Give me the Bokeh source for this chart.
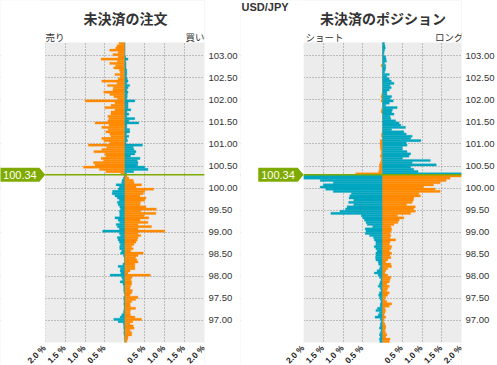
import math
from bokeh.plotting import figure
from bokeh.layouts import row
from bokeh.models import (ColumnDataSource, FixedTicker, Label, Span, BoxAnnotation,
                          PolyAnnotation, NumeralTickFormatter)
from bokeh.embed import file_html
from bokeh.resources import INLINE

# ---------------- data ----------------
pair = "USD/JPY"
price_top = 103.30          # upper edge of the top bucket
price_bottom = 96.50        # lower edge of the bottom bucket
bucket = 0.05               # bucket size (yen)
line_price = 100.30         # where the current-price line sits
current_price_label = "100.34"
price_ticks = [97.0, 97.5, 98.0, 98.5, 99.0, 99.5, 100.0, 100.5,
               101.0, 101.5, 102.0, 102.5, 103.0]
pct_ticks = [-2.0, -1.5, -1.0, -0.5, 0.5, 1.0, 1.5, 2.0]
pct_labels = ["2.0 %", "1.5 %", "1.0 %", "0.5 %", "0.5 %", "1.0 %", "1.5 %", "2.0 %"]

# open orders (%), listed from the top bucket (103.25) down to the bottom (96.50)
orders_left = [
    0.15, 0.20, 0.23, 0.38, 0.17, 0.30, 0.17, 0.60, 0.19, 0.38,
    0.23, 0.28, 0.14, 0.12, 0.25, 0.12, 0.17, 0.58, 0.20, 0.44,
    0.29, 0.30, 0.53, 0.38, 0.28, 0.19, 1.00, 0.25, 0.35, 0.50,
    0.25, 0.35, 0.35, 0.43, 0.40, 0.43, 0.75, 0.40, 0.58, 0.42,
    0.48, 0.38, 0.35, 0.58, 0.53, 0.38, 0.92, 0.46, 0.58, 0.78,
    0.50, 0.48, 0.60, 0.54, 0.79, 0.75, 1.04, 0.64, 0.48, 0.10,
    0.02, 0.04, 0.07, 0.08, 0.22, 0.14, 0.17, 0.31, 0.32, 0.25,
    0.19, 0.14, 0.19, 0.17, 0.13, 0.11, 0.14, 0.13, 0.13, 0.25,
    0.17, 0.13, 0.22, 0.19, 0.14, 0.56, 0.14, 0.11, 0.19, 0.17,
    0.14, 0.11, 0.13, 0.13, 0.08, 0.11, 0.04, 0.02, 0.01, 0.01,
    0.05, 0.17, 0.11, 0.12, 0.10, 0.37, 0.08, 0.06, 0.12, 0.05,
    0.03, 0.03, 0.03, 0.02, 0.00, 0.03, 0.03, 0.02, 0.03, 0.02,
    0.02, 0.03, 0.04, 0.08, 0.12, 0.28, 0.17, 0.04, 0.03, 0.03,
    0.02, 0.03, 0.02, 0.01, 0.01, 0.00]
orders_right = [
    0.00, 0.00, 0.00, 0.00, 0.00, 0.00, 0.02, 0.08, 0.02, 0.03,
    0.03, 0.03, 0.05, 0.05, 0.05, 0.04, 0.06, 0.08, 0.05, 0.12,
    0.08, 0.05, 0.08, 0.06, 0.06, 0.05, 0.25, 0.08, 0.08, 0.08,
    0.15, 0.05, 0.10, 0.05, 0.25, 0.10, 0.35, 0.05, 0.05, 0.12,
    0.12, 0.04, 0.10, 0.05, 0.07, 0.03, 0.44, 0.21, 0.23, 0.28,
    0.25, 0.14, 0.38, 0.31, 0.33, 0.32, 0.50, 0.58, 0.22, 0.04,
    0.05, 0.10, 0.21, 0.23, 0.42, 0.28, 0.72, 0.50, 0.46, 0.38,
    0.53, 0.50, 0.39, 0.38, 0.53, 0.79, 0.40, 0.78, 0.48, 0.60,
    0.38, 0.58, 0.33, 0.67, 0.33, 1.00, 0.33, 0.40, 0.33, 0.31,
    0.28, 0.23, 0.17, 0.21, 0.15, 0.46, 0.33, 0.27, 0.30, 0.33,
    0.25, 0.25, 0.25, 0.13, 0.08, 0.64, 0.18, 0.15, 0.17, 0.17,
    0.14, 0.13, 0.19, 0.17, 0.13, 0.33, 0.27, 0.17, 0.13, 0.14,
    0.27, 0.14, 0.13, 0.14, 0.25, 0.42, 0.20, 0.13, 0.21, 0.23,
    0.13, 0.17, 0.17, 0.08, 0.07, 0.05]

# open positions (%), same buckets
positions_left = [
    0.00, 0.00, 0.00, 0.00, 0.00, 0.00, 0.00, 0.00, 0.00, 0.00,
    0.04, 0.00, 0.00, 0.00, 0.00, 0.00, 0.00, 0.00, 0.00, 0.00,
    0.00, 0.00, 0.00, 0.02, 0.04, 0.02, 0.04, 0.00, 0.00, 0.00,
    0.03, 0.04, 0.00, 0.00, 0.00, 0.00, 0.00, 0.00, 0.00, 0.00,
    0.00, 0.03, 0.03, 0.00, 0.06, 0.06, 0.06, 0.06, 0.05, 0.03,
    0.04, 0.06, 0.03, 0.04, 0.06, 0.08, 0.08, 0.08, 0.10, 0.68,
    2.40, 2.40, 1.58, 1.25, 1.50, 1.58, 1.44, 1.25, 0.79, 0.83,
    0.85, 0.73, 0.86, 0.73, 0.90, 0.94, 1.08, 1.31, 0.54, 0.50,
    0.46, 0.42, 0.39, 0.25, 0.44, 0.42, 0.44, 0.33, 0.23, 0.21,
    0.17, 0.17, 0.21, 0.17, 0.14, 0.17, 0.17, 0.18, 0.17, 0.11,
    0.10, 0.06, 0.08, 0.14, 0.21, 0.11, 0.08, 0.04, 0.06, 0.08,
    0.11, 0.06, 0.04, 0.08, 0.10, 0.08, 0.06, 0.04, 0.06, 0.06,
    0.13, 0.17, 0.08, 0.11, 0.19, 0.06, 0.04, 0.06, 0.06, 0.08,
    0.04, 0.06, 0.08, 0.06, 0.08, 0.07]
positions_right = [
    0.05, 0.06, 0.07, 0.05, 0.04, 0.03, 0.08, 0.09, 0.10, 0.05,
    0.08, 0.08, 0.07, 0.05, 0.17, 0.11, 0.17, 0.22, 0.29, 0.19,
    0.22, 0.17, 0.11, 0.11, 0.23, 0.19, 0.27, 0.17, 0.08, 0.37,
    0.25, 0.23, 0.29, 0.19, 0.21, 0.33, 0.42, 0.46, 0.58, 0.23,
    0.54, 0.60, 0.75, 0.71, 0.97, 0.60, 0.62, 0.50, 0.50, 0.62,
    0.71, 0.67, 0.50, 1.21, 0.75, 1.36, 0.71, 0.79, 0.90, 2.40,
    2.40, 1.71, 1.61, 1.46, 1.29, 1.04, 1.33, 1.46, 0.92, 0.96,
    0.79, 0.78, 0.75, 0.61, 0.83, 0.79, 0.83, 0.71, 0.38, 0.54,
    0.42, 0.39, 0.29, 0.21, 0.23, 0.22, 0.19, 0.21, 0.19, 0.33,
    0.19, 0.17, 0.23, 0.21, 0.17, 0.23, 0.19, 0.21, 0.13, 0.08,
    0.21, 0.23, 0.13, 0.08, 0.06, 0.13, 0.21, 0.19, 0.17, 0.11,
    0.17, 0.13, 0.11, 0.17, 0.13, 0.08, 0.06, 0.11, 0.23, 0.17,
    0.06, 0.08, 0.06, 0.04, 0.08, 0.04, 0.03, 0.06, 0.08, 0.08,
    0.06, 0.08, 0.11, 0.08, 0.19, 0.17]

# ---------------- style / layout ----------------
ORANGE = "#ff8a00"
TEAL = "#00a6c0"
GREEN = "#7fab00"
BG = "#ececec"
GRID = "#8c8c8c"
TXT = "#333333"
LATIN = "Liberation Sans"
CJK = "Noto Sans CJK JP"
H = 365
PLOT_TOP_PX = 42            # page y of the top of the grey plot area
PLOT_H_PX = 300             # height of the grey plot area
PX_Y = (price_top - price_bottom) / PLOT_H_PX   # yen per pixel
PX_X = 4.0 / 160            # percent per pixel
Y_MAX = price_top + PLOT_TOP_PX * PX_Y
Y_MIN = price_bottom - (H - PLOT_TOP_PX - PLOT_H_PX) * PX_Y


def panel(title, word_left, word_right, left_vals, right_vals,
          width, left_px, right_border, title_cx, word_lx):
    """left_px: pixels from the canvas left edge to the -2 % line."""
    n = len(left_vals)
    lows = [price_top - bucket * (i + 1) for i in range(n)]
    centers = [lo + bucket / 2 for lo in lows]
    above = [lo >= line_price - 1e-6 for lo in lows]
    src = ColumnDataSource(dict(
        y=centers,
        lneg=[-v for v in left_vals],
        r=list(right_vals),
        lc=[ORANGE if a else TEAL for a in above],
        rc=[TEAL if a else ORANGE for a in above],
    ))
    x_min = -2 - left_px * PX_X
    p = figure(width=width, height=H, x_range=(x_min, 2), y_range=(Y_MIN, Y_MAX),
               x_axis_location=None, y_axis_location="right",
               output_backend="svg", toolbar_location=None,
               min_border_left=0, min_border_right=right_border,
               min_border_top=0, min_border_bottom=0)
    p.background_fill_color = BG
    p.border_fill_color = "white"
    p.outline_line_color = None

    # grids (dotted)
    p.xgrid.ticker = FixedTicker(ticks=[-2, -1.5, -1, -0.5, 0, 0.5, 1, 1.5, 2])
    p.ygrid.ticker = FixedTicker(ticks=price_ticks)
    for g in (p.xgrid, p.ygrid):
        g.grid_line_color = GRID
        g.grid_line_dash = "1 2"
        g.grid_line_width = 1

    # white margins around the grey plot area (under the bars, over the grid)
    for kw in (dict(right=-2), dict(bottom=price_top), dict(top=price_bottom)):
        p.add_layout(BoxAnnotation(fill_color="white", fill_alpha=1.0,
                                   line_color=None, level="underlay", **kw))

    # bars
    p.hbar(y="y", left="lneg", right=0, height=bucket, fill_color="lc",
           line_color="lc", line_width=0.3, source=src)
    p.hbar(y="y", left=0, right="r", height=bucket, fill_color="rc",
           line_color="rc", line_width=0.3, source=src)

    # current price line
    p.add_layout(Span(location=line_price, dimension="width",
                      line_color=GREEN, line_width=1.5))
    # bars wider than 2 % are cut at the plot edge
    p.add_layout(BoxAnnotation(right=-2, fill_color="white", fill_alpha=1.0,
                               line_color=None))

    # y axis (right)
    ya = p.yaxis[0]
    ya.ticker = FixedTicker(ticks=price_ticks)
    ya.formatter = NumeralTickFormatter(format="0.00")
    ya.axis_line_color = None
    ya.major_tick_line_color = None
    ya.minor_tick_line_color = None
    ya.major_tick_out = 0
    ya.major_tick_in = 0
    ya.minor_tick_out = 0
    ya.major_label_standoff = 4
    ya.major_label_text_font = LATIN
    ya.major_label_text_font_size = "9.5px"
    ya.major_label_text_color = TXT

    # x tick labels, rotated, below the grey area
    for t, s in zip(pct_ticks, pct_labels):
        p.add_layout(Label(x=t, y=price_bottom - 4 * PX_Y, x_offset=-1,
                           text=s, angle=math.pi / 4,
                           text_align="right", text_baseline="middle",
                           text_font=LATIN, text_font_size="8.5px",
                           text_font_style="bold", text_color="#222222"))

    # titles (screen units, measured from the frame's bottom-left)
    p.add_layout(Label(x=title_cx, y=H - 17.5, x_units="screen", y_units="screen",
                       text=title, text_align="center", text_baseline="middle",
                       text_font=CJK, text_font_size="14px",
                       text_font_style="bold", text_color=TXT))
    p.add_layout(Label(x=word_lx, y=H - 36, x_units="screen", y_units="screen",
                       text=word_left, text_align="left", text_baseline="middle",
                       text_font=CJK, text_font_size="9.5px", text_color=TXT))
    p.add_layout(Label(x=left_px + 159, y=H - 36, x_units="screen", y_units="screen",
                       text=word_right, text_align="right", text_baseline="middle",
                       text_font=CJK, text_font_size="9.5px", text_color=TXT))

    # price tag at the left edge of the grey area
    tag_w, arrow = 40, 6
    xl = -2 - (tag_w + arrow) * PX_X
    xr = -2 - arrow * PX_X
    half = 7 * PX_Y
    p.add_layout(PolyAnnotation(
        xs=[xl, xr, -2.0, xr, xl],
        ys=[line_price + half, line_price + half, line_price,
            line_price - half, line_price - half],
        xs_units="data", ys_units="data",
        fill_color=GREEN, fill_alpha=1.0, line_color=None))
    p.add_layout(Label(x=max(xl, x_min) / 2 + xr / 2, y=line_price,
                       text=current_price_label, text_align="center",
                       text_baseline="middle", text_font=LATIN,
                       text_font_size="11px", text_color="white"))
    return p


p1 = panel("未決済の注文", "売り", "買い", orders_left, orders_right,
           width=240, left_px=45, right_border=35, title_cx=125, word_lx=45)
p2 = panel("未決済のポジション", "ショート", "ロング", positions_left, positions_right,
           width=257, left_px=64, right_border=33, title_cx=142.5, word_lx=65)

p2.add_layout(Label(x=1, y=H - 6, x_units="screen", y_units="screen",
                    text=pair, text_align="left", text_baseline="middle",
                    text_font=LATIN, text_font_size="11px",
                    text_font_style="bold", text_color=TXT))

layout = row(p1, p2, spacing=0)
open("out.html", "w").write(file_html(layout, INLINE))
